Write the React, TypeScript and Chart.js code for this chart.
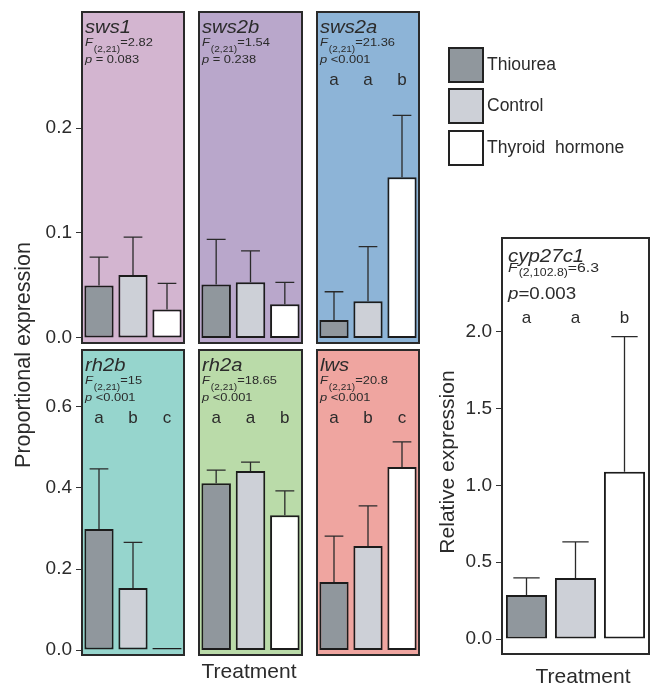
import React, { useEffect, useRef } from 'react';
import { Chart, registerables } from 'chart.js';

Chart.register(...registerables);

const FONT = '"Liberation Sans", Arial, sans-serif';
Chart.defaults.font.family = FONT;

const W = 651;
const H = 686;

// ---- data ----
const treatments = ['Thiourea', 'Control', 'Thyroid hormone'];
const barColors = ['#90979d', '#cdd0d7', '#ffffff'];

const sws1Means = [0.050, 0.060, 0.027];
const sws1Upper = [0.077, 0.096, 0.052];
const sws2bMeans = [0.051, 0.053, 0.032];
const sws2bUpper = [0.094, 0.083, 0.053];
const sws2aMeans = [0.017, 0.035, 0.153];
const sws2aUpper = [0.044, 0.087, 0.212];
const rh2bMeans = [0.299, 0.153, 0.005];
const rh2bUpper = [0.447, 0.266, 0.005];
const rh2aMeans = [0.412, 0.442, 0.333];
const rh2aUpper = [0.444, 0.464, 0.393];
const lwsMeans = [0.168, 0.257, 0.452];
const lwsUpper = [0.281, 0.356, 0.514];
const cypMeans = [0.287, 0.398, 1.089];
const cypUpper = [0.398, 0.632, 1.969];

const topTicks = [0, 0.1, 0.2];
const bottomTicks = [0, 0.2, 0.4, 0.6];
const cypTicks = [0, 0.5, 1.0, 1.5, 2.0];

const geneNames = ['sws1', 'sws2b', 'sws2a', 'rh2b', 'rh2a', 'lws'];
const fSubscripts = ['(2,21)', '(2,21)', '(2,21)', '(2,21)', '(2,21)', '(2,21)'];
const fValues = ['=2.82', '=1.54', '=21.36', '=15', '=18.65', '=20.8'];
const pValues = [' = 0.083', ' = 0.238', ' <0.001', ' <0.001', ' <0.001', ' <0.001'];
const sigLetters: (string[] | null)[] = [null, null, ['a', 'a', 'b'], ['a', 'b', 'c'], ['a', 'a', 'b'], ['a', 'b', 'c']];

const cypName = 'cyp27c1';
const cypSub = '(2,102.8)';
const cypF = '=6.3';
const cypP = '=0.003';
const cypLetters = ['a', 'a', 'b'];

const panelColors = ['#d3b5d0', '#b9a7cb', '#8db4d7', '#96d5cd', '#badba9', '#efa5a0'];

const TEXT = '#2b2b2b';

type Panel = {
  box: { l: number; t: number; r: number; b: number };
  bg: string;
  means: number[];
  upper: number[];
  min: number;
  max: number;
  ticks: number[];
  showY: boolean;
  name: string;
  sub: string;
  fval: string;
  pval: string;
  letters: string[] | null;
  big: boolean;
  extra?: (ctx: CanvasRenderingContext2D) => void;
};

function font(size: number, italic = false) {
  return `${italic ? 'italic ' : ''}${size}px ${FONT}`;
}

// draws text stretched horizontally by sx, returns drawn width
function wideText(ctx: CanvasRenderingContext2D, t: string, x: number, y: number, sx: number) {
  ctx.save();
  ctx.translate(x, y);
  ctx.scale(sx, 1);
  ctx.fillText(t, 0, 0);
  const w = ctx.measureText(t).width * sx;
  ctx.restore();
  return w;
}

function drawGlobalText(ctx: CanvasRenderingContext2D) {
  ctx.save();
  ctx.fillStyle = TEXT;
  ctx.save();
  ctx.translate(30, 355);
  ctx.rotate(-Math.PI / 2);
  ctx.font = font(21.5);
  ctx.textAlign = 'center';
  ctx.textBaseline = 'alphabetic';
  ctx.fillText('Proportional expression', 0, 0);
  ctx.restore();
  ctx.font = font(21);
  ctx.textAlign = 'center';
  ctx.fillText('Treatment', 249, 678);
  ctx.restore();
}

function drawRightText(ctx: CanvasRenderingContext2D) {
  ctx.save();
  ctx.fillStyle = TEXT;
  ctx.save();
  ctx.translate(454, 462);
  ctx.rotate(-Math.PI / 2);
  ctx.font = font(21);
  ctx.textAlign = 'center';
  ctx.fillText('Relative expression', 0, 0);
  ctx.restore();
  ctx.font = font(21);
  ctx.textAlign = 'center';
  ctx.fillText('Treatment', 583, 683);
  // legend
  const boxes = [48, 89, 131];
  treatments.forEach((t, i) => {
    ctx.fillStyle = barColors[i];
    ctx.fillRect(449, boxes[i], 34, 34);
    ctx.strokeStyle = '#222';
    ctx.lineWidth = 2;
    ctx.strokeRect(449, boxes[i], 34, 34);
    ctx.fillStyle = TEXT;
    ctx.font = font(17.5);
    ctx.textAlign = 'left';
    ctx.textBaseline = 'middle';
    ctx.fillText(t === 'Thyroid hormone' ? 'Thyroid  hormone' : t, 487, boxes[i] + 17);
  });
  ctx.restore();
}

function makeDecor(p: Panel) {
  return {
    id: 'decor',
    beforeDraw(chart: any) {
      const { ctx, chartArea: a } = chart;
      ctx.save();
      ctx.fillStyle = p.bg;
      ctx.fillRect(a.left, a.top, a.right - a.left, a.bottom - a.top);
      ctx.restore();
    },
    afterDatasetsDraw(chart: any) {
      const { ctx } = chart;
      const meta = chart.getDatasetMeta(0);
      const ys = chart.scales.y;
      ctx.save();
      ctx.strokeStyle = '#2a2a2a';
      ctx.lineWidth = 1.3;
      meta.data.forEach((bar: any, i: number) => {
        if (p.upper[i] <= p.means[i]) return;
        const x = bar.x;
        const y0 = ys.getPixelForValue(p.means[i]);
        const y1 = ys.getPixelForValue(p.upper[i]);
        const hw = bar.width * 0.32;
        ctx.beginPath();
        ctx.moveTo(x, y0);
        ctx.lineTo(x, y1);
        ctx.moveTo(x - hw, y1);
        ctx.lineTo(x + hw, y1);
        ctx.stroke();
      });
      ctx.restore();
    },
    afterDraw(chart: any) {
      const { ctx, chartArea: a } = chart;
      ctx.save();
      ctx.strokeStyle = '#2a2a2a';
      ctx.lineWidth = 2;
      ctx.strokeRect(a.left, a.top, a.right - a.left, a.bottom - a.top);
      ctx.fillStyle = TEXT;
      ctx.textBaseline = 'alphabetic';
      ctx.textAlign = 'left';
      const s = p.big
        ? { name: 17.5, f: 13.5, sub: 10.5, p: 16, let: 17, nx: 6, ny: 24, fy: 34, sy: 38, py: 61, ly: 85, sx: 1.17 }
        : { name: 18, f: 11.5, sub: 9, p: 11.5, let: 17, nx: 3, ny: 21, fy: 34, sy: 40, py: 51, ly: 73, sx: 1.12 };
      const x0 = a.left + s.nx;
      ctx.font = font(s.name, true);
      wideText(ctx, p.name, x0, a.top + s.ny, s.sx);
      ctx.font = font(s.f, true);
      let x = x0 + wideText(ctx, 'F', x0, a.top + s.fy, s.sx) + 1;
      ctx.font = font(s.sub);
      x += wideText(ctx, p.sub, x, a.top + s.sy, s.sx);
      ctx.font = font(s.f);
      wideText(ctx, p.fval, x, a.top + s.fy, s.sx);
      ctx.font = font(s.p, true);
      const px = x0 + wideText(ctx, 'p', x0, a.top + s.py, s.sx);
      ctx.font = font(s.p);
      wideText(ctx, p.pval, px, a.top + s.py, s.sx);
      if (p.letters) {
        const meta = chart.getDatasetMeta(0);
        ctx.font = font(s.let);
        ctx.textAlign = 'center';
        meta.data.forEach((bar: any, i: number) => {
          ctx.fillText(p.letters![i], bar.x, a.top + s.ly);
        });
      }
      ctx.restore();
      if (p.extra) p.extra(ctx);
    },
  };
}

function PanelChart({ p }: { p: Panel }) {
  const ref = useRef<HTMLCanvasElement>(null);
  useEffect(() => {
    const axisW = p.showY ? 70 : 0;
    const chart = new Chart(ref.current!, {
      type: 'bar',
      data: {
        labels: treatments,
        datasets: [
          {
            data: p.means,
            backgroundColor: barColors,
            borderColor: '#1c1c1c',
            borderWidth: 2,
            borderSkipped: false,
            barPercentage: p.big ? 0.84 : 0.86,
            categoryPercentage: 1,
          },
        ],
      },
      options: {
        animation: false,
        responsive: false,
        events: [],
        layout: {
          autoPadding: false,
          padding: {
            left: p.box.l - axisW,
            top: p.box.t,
            right: W - p.box.r,
            bottom: H - p.box.b,
          },
        },
        plugins: { legend: { display: false }, tooltip: { enabled: false } },
        scales: {
          x: { display: false, offset: true },
          y: {
            display: p.showY,
            min: p.min,
            max: p.max,
            afterBuildTicks: (s: any) => {
              s.ticks = p.ticks.map((v) => ({ value: v }));
            },
            afterFit: (s: any) => {
              s.width = axisW;
              s.paddingTop = 0;
              s.paddingBottom = 0;
            },
            grid: {
              display: true,
              drawOnChartArea: false,
              drawTicks: true,
              tickLength: 6,
              color: '#333',
              lineWidth: 1,
            },
            border: { display: false },
            ticks: {
              padding: 4,
              color: TEXT,
              font: { size: 19 },
              callback: (v: any) => Number(v).toFixed(1),
            },
          },
        },
      },
      plugins: [makeDecor(p)],
    });
    return () => chart.destroy();
  }, []);
  return (
    <canvas
      ref={ref}
      width={W}
      height={H}
      style={{ position: 'absolute', left: 0, top: 0, width: W, height: H }}
    />
  );
}

const cols = [
  { l: 82, r: 184 },
  { l: 199, r: 302 },
  { l: 317, r: 419 },
];
const meansList = [sws1Means, sws2bMeans, sws2aMeans, rh2bMeans, rh2aMeans, lwsMeans];
const upperList = [sws1Upper, sws2bUpper, sws2aUpper, rh2bUpper, rh2aUpper, lwsUpper];

const panels: Panel[] = geneNames.map((g, i) => {
  const row = i < 3 ? 0 : 1;
  const c = cols[i % 3];
  const top = row === 0;
  return {
    box: { l: c.l, r: c.r, t: top ? 12 : 350, b: top ? 343 : 655 },
    bg: panelColors[i],
    means: meansList[i],
    upper: upperList[i],
    min: top ? -0.0048 : -0.0123,
    max: top ? 0.3105 : 0.7407,
    ticks: top ? topTicks : bottomTicks,
    showY: i % 3 === 0,
    name: g,
    sub: fSubscripts[i],
    fval: fValues[i],
    pval: pValues[i],
    letters: sigLetters[i],
    big: false,
    extra: i === 0 ? drawGlobalText : undefined,
  };
});

panels.push({
  box: { l: 502, r: 649, t: 238, b: 654 },
  bg: '#ffffff',
  means: cypMeans,
  upper: cypUpper,
  min: -0.0977,
  max: 2.612,
  ticks: cypTicks,
  showY: true,
  name: cypName,
  sub: cypSub,
  fval: cypF,
  pval: cypP,
  letters: cypLetters,
  big: true,
  extra: drawRightText,
});

export default function App() {
  return (
    <div style={{ position: 'absolute', left: 0, top: 0, width: W, height: H, background: '#fff' }}>
      {panels.map((p, i) => (
        <PanelChart key={i} p={p} />
      ))}
    </div>
  );
}
